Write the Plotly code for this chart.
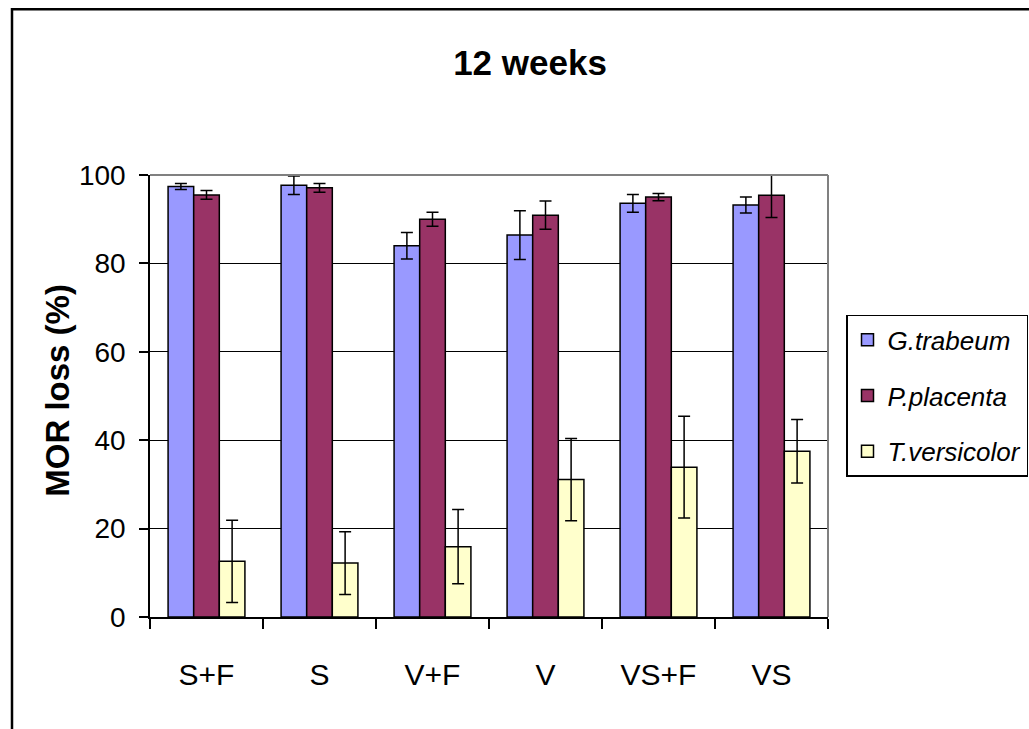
import plotly.graph_objects as go

# Treatments on the x axis
categories = ["S+F", "S", "V+F", "V", "VS+F", "VS"]

# Mean MOR loss (%) per fungus
g_trabeum = [97.4, 97.7, 84.0, 86.4, 93.6, 93.2]
p_placenta = [95.5, 97.1, 90.0, 90.9, 95.0, 95.4]
t_versicolor = [12.6, 12.2, 15.9, 31.1, 33.9, 37.5]

# Error bar half-widths (%)
g_trabeum_err = [0.7, 2.1, 3.0, 5.5, 2.0, 1.8]
p_placenta_err = [1.0, 1.0, 1.6, 3.2, 0.8, 5.0]
t_versicolor_err = [9.3, 7.1, 8.4, 9.3, 11.5, 7.2]

series = [
    ("G.trabeum", g_trabeum, g_trabeum_err, "#9999FF"),
    ("P.placenta", p_placenta, p_placenta_err, "#993366"),
    ("T.versicolor", t_versicolor, t_versicolor_err, "#FFFFCC"),
]

FONT = "Liberation Sans, Arial, sans-serif"

fig = go.Figure()
for name, vals, errs, color in series:
    fig.add_trace(go.Bar(
        name=name,
        x=categories,
        y=vals,
        legendgroup=name,
        marker=dict(color=color, line=dict(color="black", width=1.5)),
        error_y=dict(type="data", array=errs, visible=True,
                     color="black", thickness=1.5, width=6),
    ))

W, H = 1029, 729
L, R, T, B = 150, 828, 175, 617.5

def px_x(p):
    return (p - L) / (R - L)

def px_y(p):
    return (B - p) / (B - T)

fig.update_layout(
    width=W, height=H,
    margin=dict(l=L, r=W - R, t=T, b=H - B, pad=0, autoexpand=False),
    paper_bgcolor="white",
    plot_bgcolor="white",
    barmode="group",
    bargap=0.32,
    bargroupgap=0,
    font=dict(family=FONT, color="black"),
    title=dict(
        text="<b>12 weeks</b>",
        font=dict(family=FONT, size=35, color="black"),
        x=530 / W, xanchor="center", xref="container",
        y=1 - 63 / H, yanchor="middle", yref="container",
    ),
    showlegend=True,
    legend=dict(
        x=px_x(846), xanchor="left",
        y=px_y(315), yanchor="top",
        bordercolor="black", borderwidth=1.5,
        bgcolor="white",
        font=dict(family=FONT, size=26, style="italic", color="black"),
        tracegroupgap=19,
        itemwidth=30,
    ),
    xaxis=dict(
        type="category",
        automargin=False,
        showline=True, linecolor="black", linewidth=1.5,
        ticks="outside", tickson="boundaries", ticklen=10,
        tickcolor="black", tickwidth=1.5,
        tickfont=dict(family=FONT, size=30, color="black"),
        ticklabelstandoff=30,
        showgrid=False,
    ),
    yaxis=dict(
        range=[0, 100],
        automargin=False,
        tickvals=[0, 20, 40, 60, 80, 100],
        showline=True, linecolor="black", linewidth=1.5,
        ticks="outside", ticklen=9, tickcolor="black", tickwidth=1.5,
        tickfont=dict(family=FONT, size=28, color="black"),
        ticklabelstandoff=8,
        showgrid=True, gridcolor="black", gridwidth=1.2,
        zeroline=False,
    ),
    annotations=[
        dict(
            text="<b>MOR loss (%)</b>",
            xref="paper", yref="paper",
            x=px_x(58), y=px_y(391), xanchor="center", yanchor="middle",
            textangle=-90, showarrow=False,
            font=dict(family=FONT, size=33, color="black"),
        )
    ],
    shapes=[
        # gray frame on top and right of the plotting area
        dict(type="line", xref="paper", yref="paper", x0=0, x1=1, y0=1, y1=1,
             line=dict(color="#808080", width=2)),
        dict(type="line", xref="paper", yref="paper", x0=1, x1=1, y0=0, y1=1,
             line=dict(color="#808080", width=2)),
        # outer chart border
        dict(type="rect", xref="paper", yref="paper",
             x0=px_x(12), x1=px_x(1045), y0=px_y(9), y1=px_y(745),
             line=dict(color="black", width=2.5), layer="above"),
    ],
)

fig.write_html("out.html")
